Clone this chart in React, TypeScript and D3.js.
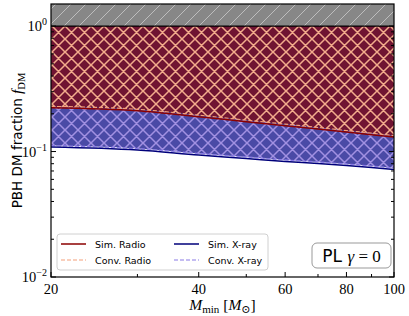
import React from "react";
import * as d3 from "d3";

// M_min grid (solar masses)
const masses = [20, 30, 40, 50, 60, 70, 80, 90, 100];
// f_DM upper limits
const simRadio = [0.2235, 0.2115, 0.1896, 0.173, 0.1608, 0.151, 0.143, 0.1364, 0.1303];
const convRadio = [0.229, 0.217, 0.195, 0.178, 0.1655, 0.1555, 0.147, 0.140, 0.134];
const simXray = [0.1086, 0.1028, 0.0938, 0.088, 0.0833, 0.0803, 0.0774, 0.0746, 0.072];
const convXray = [0.1115, 0.1056, 0.0965, 0.0905, 0.0857, 0.0826, 0.0796, 0.0767, 0.0741];

const xMajor = [20, 40, 60, 80, 100];
const xMinor = [30, 50, 70, 90];
const yMajor = [0.01, 0.1, 1];
const yMajorExp = ["\u22122", "\u22121", "0"];
const yMinor = d3.range(2, 10).flatMap((m) => [m * 0.01, m * 0.1]);

const W = 409,
  H = 316;
const left = 51,
  right = 394,
  top = 4,
  bottom = 277;

export default function App() {
  const x = d3.scaleLog().domain([20, 100]).range([left, right]);
  const y = d3.scaleLog().domain([0.01, 1.5]).range([bottom, top]);

  const line = d3
    .line<number>()
    .x((_, i) => x(masses[i]))
    .y((d) => y(d))
    .curve(d3.curveMonotoneX);
  const areaTo1 = d3
    .area<number>()
    .x((_, i) => x(masses[i]))
    .y0(() => y(1))
    .y1((d) => y(d))
    .curve(d3.curveMonotoneX);

  const serif = "'Liberation Serif', 'DejaVu Serif', serif";
  const sans = "'DejaVu Sans', 'Liberation Sans', sans-serif";
  const P = 13;
  const cross = `M0,0 L${P},${P} M0,${P} L${P},0 M-1,1 L1,-1 M${P - 1},${P + 1} L${P + 1},${P - 1} M-1,${P - 1} L1,${P + 1} M${P - 1},-1 L${P + 1},1`;

  return (
    <svg
      width={W}
      height={H}
      style={{ position: "absolute", left: 0, top: 0, background: "#fff" }}
    >
      <defs>
        <clipPath id="plot">
          <rect x={left} y={top} width={right - left} height={bottom - top} />
        </clipPath>
        <pattern id="hatchGray" width={15} height={15} patternUnits="userSpaceOnUse">
          <rect width={15} height={15} fill="#878787" />
          <path d="M-1,16 L16,-1 M-8,8 L8,-8 M7,23 L23,7" stroke="#bdbdbd" strokeWidth={1} />
        </pattern>
        <pattern id="hatchRed" width={P} height={P} patternUnits="userSpaceOnUse">
          <rect width={P} height={P} fill="#701432" />
          <path d={cross} stroke="#f3ac8c" strokeWidth={1.5} />
        </pattern>
        <pattern id="hatchBlue" width={P} height={P} patternUnits="userSpaceOnUse">
          <rect width={P} height={P} fill="#4a4aa6" />
          <path d={cross} stroke="#a190e2" strokeWidth={1.5} />
        </pattern>
      </defs>

      <g clipPath="url(#plot)">
        <rect x={left} y={top} width={right - left} height={y(1) - top} fill="url(#hatchGray)" />
        <path d={areaTo1(convXray) ?? ""} fill="url(#hatchBlue)" />
        <path d={areaTo1(convRadio) ?? ""} fill="url(#hatchRed)" />
        <line x1={left} x2={right} y1={y(1)} y2={y(1)} stroke="#000" strokeWidth={1.2} />
        <path d={line(convXray) ?? ""} fill="none" stroke="#8a7ae6" strokeWidth={1.2} strokeDasharray="4,2" />
        <path d={line(simXray) ?? ""} fill="none" stroke="#00007a" strokeWidth={1.5} />
        <path d={line(convRadio) ?? ""} fill="none" stroke="#f4a07a" strokeWidth={1.2} strokeDasharray="4,2" />
        <path d={line(simRadio) ?? ""} fill="none" stroke="#8b0000" strokeWidth={1.5} />
      </g>

      {/* ticks */}
      <g stroke="#000" strokeWidth={1}>
        {xMajor.map((t) => (
          <line key={"xM" + t} x1={x(t)} x2={x(t)} y1={bottom} y2={bottom - 5} />
        ))}
        {xMinor.map((t) => (
          <line key={"xm" + t} x1={x(t)} x2={x(t)} y1={bottom} y2={bottom - 3} />
        ))}
        {yMajor.map((t) => (
          <g key={"yM" + t}>
            <line x1={left} x2={left + 5} y1={y(t)} y2={y(t)} />
            <line x1={right} x2={right - 5} y1={y(t)} y2={y(t)} />
          </g>
        ))}
        {yMinor.map((t) => (
          <g key={"ym" + t}>
            <line x1={left} x2={left + 3} y1={y(t)} y2={y(t)} />
            <line x1={right} x2={right - 3} y1={y(t)} y2={y(t)} />
          </g>
        ))}
      </g>
      <rect x={left} y={top} width={right - left} height={bottom - top} fill="none" stroke="#000" strokeWidth={1.2} />

      {/* tick labels */}
      <g fontFamily={serif} fontSize={14.5} fill="#000">
        {xMajor.map((t) => (
          <text key={"xl" + t} x={x(t)} y={bottom + 17} textAnchor="middle">
            {t}
          </text>
        ))}
        {yMajor.map((t, i) => (
          <text key={"yl" + t} x={left - 4} y={y(t) + 5} textAnchor="end">
            10<tspan fontSize={10} dy={-6}>{yMajorExp[i]}</tspan>
          </text>
        ))}
      </g>

      {/* axis labels */}
      <text x={(left + right) / 2} y={310} textAnchor="middle" fontFamily={serif} fontSize={15.5}>
        <tspan fontStyle="italic">M</tspan>
        <tspan fontSize={11} dy={3}>min</tspan>
        <tspan dy={-3}> [</tspan>
        <tspan fontStyle="italic">M</tspan>
        <tspan fontSize={11} dy={3}>{"\u2299"}</tspan>
        <tspan dy={-3}>]</tspan>
      </text>
      <text transform={`translate(22,${(top + bottom) / 2}) rotate(-90)`} textAnchor="middle" fontSize={13.5}>
        <tspan fontFamily={sans}>PBH DM fraction </tspan>
        <tspan fontFamily={serif} fontStyle="italic" fontSize={15.5}>f</tspan>
        <tspan fontFamily={serif} fontSize={10.5} dy={3}>DM</tspan>
      </text>

      {/* legend */}
      <g fontFamily={sans} fontSize={9.5}>
        <rect x={57} y={234} width={211} height={36} rx={3} fill="#fff" fillOpacity={0.85} stroke="#d0d0d0" />
        <line x1={61} x2={86} y1={244} y2={244} stroke="#8b0000" strokeWidth={1.5} />
        <text x={95} y={247.5}>Sim.  Radio</text>
        <line x1={61} x2={86} y1={260} y2={260} stroke="#f4a07a" strokeWidth={1.2} strokeDasharray="4,2" />
        <text x={95} y={263.5}>Conv.  Radio</text>
        <line x1={174} x2={199} y1={244} y2={244} stroke="#00007a" strokeWidth={1.5} />
        <text x={208} y={247.5}>Sim.  X-ray</text>
        <line x1={174} x2={199} y1={260} y2={260} stroke="#8a7ae6" strokeWidth={1.2} strokeDasharray="4,2" />
        <text x={208} y={263.5}>Conv.  X-ray</text>
      </g>

      {/* PL box */}
      <rect x={312} y={243} width={79} height={25} rx={5} fill="#fff" stroke="#999" strokeWidth={1} />
      <text x={351.5} y={261.5} textAnchor="middle" fontSize={17}>
        <tspan fontFamily={sans}>PL </tspan>
        <tspan fontFamily={serif} fontStyle="italic">{"\u03b3"}</tspan>
        <tspan fontFamily={serif}> = 0</tspan>
      </text>
    </svg>
  );
}
